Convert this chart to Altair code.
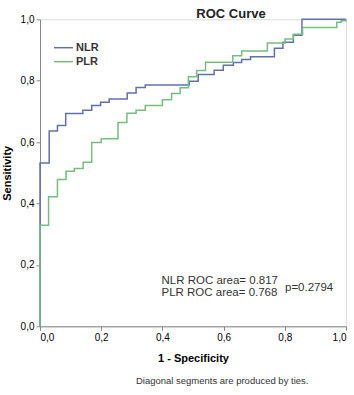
import altair as alt
import pandas as pd

# ROC coordinates (1 - specificity, sensitivity)
nlr_fpr = [0.0, 0.0, 0.030, 0.057, 0.084, 0.140, 0.169, 0.198, 0.226, 0.285, 0.314, 0.344,
           0.488, 0.517, 0.569, 0.599, 0.632, 0.659, 0.688, 0.766, 0.794, 0.828, 0.856, 1.0]
nlr_tpr = [0.0, 0.532, 0.636, 0.654, 0.693, 0.704, 0.719, 0.730, 0.740, 0.760, 0.778, 0.786,
           0.798, 0.820, 0.834, 0.850, 0.859, 0.869, 0.878, 0.906, 0.925, 0.948, 1.0, 1.0]

plr_fpr = [0.0, 0.0, 0.028, 0.057, 0.085, 0.112, 0.141, 0.169, 0.200, 0.255, 0.284, 0.314,
           0.344, 0.400, 0.430, 0.458, 0.485, 0.512, 0.541, 0.630, 0.659, 0.743, 0.801, 0.828,
           0.858, 0.970, 0.984, 1.0]
plr_tpr = [0.0, 0.329, 0.422, 0.478, 0.505, 0.514, 0.534, 0.599, 0.611, 0.664, 0.694, 0.704,
           0.719, 0.738, 0.758, 0.777, 0.813, 0.833, 0.860, 0.881, 0.897, 0.923, 0.936, 0.951,
           0.973, 0.990, 0.995, 1.0]

series_names = ["NLR", "PLR"]
series_colors = ["#6270ae", "#74bf80"]
area_lines = ["NLR ROC area= 0.817", "PLR ROC area= 0.768"]
p_text = "p=0.2794"
ticks = [0.0, 0.2, 0.4, 0.6, 0.8, 1.0]

rows = []
for name, xs, ys in [("NLR", nlr_fpr, nlr_tpr), ("PLR", plr_fpr, plr_tpr)]:
    for i, (x, y) in enumerate(zip(xs, ys)):
        rows.append({"series": name, "fpr": x, "tpr": y, "order": i})
df = pd.DataFrame(rows)

FONT = "Liberation Sans"
W, H = 306, 307
label_expr = "replace(format(datum.value, '.1f'), '.', ',')"

lines = alt.Chart(df).mark_line(interpolate="step-after", strokeWidth=1.5).encode(
    x=alt.X("fpr:Q", scale=alt.Scale(domain=[0, 1], nice=False),
            axis=alt.Axis(values=ticks, labelExpr=label_expr, title="1 - Specificity",
                          grid=False, tickSize=4, labelPadding=2, titlePadding=10)),
    y=alt.Y("tpr:Q", scale=alt.Scale(domain=[0, 1], nice=False),
            axis=alt.Axis(values=ticks, labelExpr=label_expr, title="Sensitivity",
                          grid=False, tickSize=4, labelPadding=2, titlePadding=8)),
    color=alt.Color("series:N", scale=alt.Scale(domain=series_names, range=series_colors),
                    legend=None),
    order="order:Q",
)

layers = [lines]

# manual legend
legend_y = [28.4, 42.4]
for name, col, ly in zip(series_names, series_colors, legend_y):
    ldf = pd.DataFrame({"label": [name]})
    layers.append(alt.Chart(ldf).mark_rule(color=col, strokeWidth=1.5).encode(
        x=alt.value(14), x2=alt.value(33), y=alt.value(ly)))
    layers.append(alt.Chart(ldf).mark_text(align="left", baseline="middle", font=FONT,
                                           fontSize=11, fontWeight="bold", color="#333333").encode(
        x=alt.value(36), y=alt.value(ly), text="label:N"))

# annotations
for txt, ay in zip(area_lines, [261.4, 273.4]):
    adf = pd.DataFrame({"t": [txt]})
    layers.append(alt.Chart(adf).mark_text(align="left", baseline="middle", font=FONT,
                                           fontSize=11.5, color="#333333").encode(
        x=alt.value(121.5), y=alt.value(ay), text="t:N"))
pdf = pd.DataFrame({"t": [p_text]})
layers.append(alt.Chart(pdf).mark_text(align="left", baseline="middle", font=FONT,
                                       fontSize=11.5, color="#333333").encode(
    x=alt.value(245), y=alt.value(268.4), text="t:N"))

foot = pd.DataFrame({"t": ["Diagonal segments are produced by ties."]})
layers.append(alt.Chart(foot).mark_text(align="left", baseline="middle", font=FONT,
                                        fontSize=9.5, color="#333333").encode(
    x=alt.value(96), y=alt.value(361.4), text="t:N"))

chart = alt.layer(*layers).properties(
    width=W, height=H,
    title=alt.TitleParams("ROC Curve", font=FONT, fontSize=13, fontWeight="bold",
                          color="#222222", anchor="middle", dx=38, offset=-7),
    autosize=alt.AutoSizeParams(type="none"),
    padding={"left": 40, "top": 19.3, "right": 8, "bottom": 69},
).configure_view(
    stroke="#8a8a8a", strokeWidth=1
).configure_axis(
    domainColor="#333333", domainWidth=1.5, tickColor="#333333",
    labelFont=FONT, labelFontSize=9.5, labelColor="#444444",
    titleFont=FONT, titleFontSize=11.5, titleFontWeight="bold", titleColor="#222222",
).configure(background="white")

chart.save("out.html", embed_options={"renderer": "svg", "actions": False})
